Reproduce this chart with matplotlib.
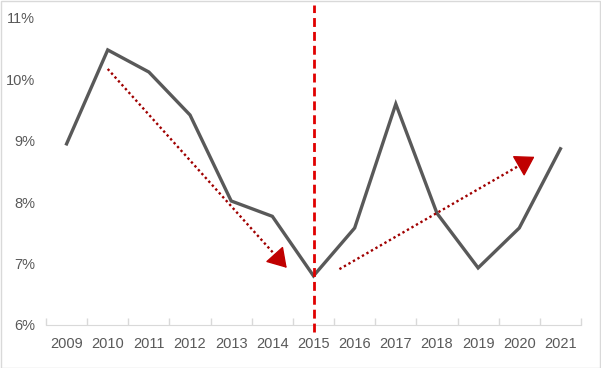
import matplotlib
matplotlib.use("Agg")
import math
from matplotlib import pyplot as plt
from matplotlib.patches import Rectangle
from matplotlib.ticker import FixedLocator, NullFormatter

years = ["2009", "2010", "2011", "2012", "2013", "2014", "2015",
         "2016", "2017", "2018", "2019", "2020", "2021"]
rate = [8.95, 10.48, 10.12, 9.42, 8.02, 7.77, 6.80,
        7.58, 9.60, 7.82, 6.93, 7.58, 8.87]
y_ticks = [6, 7, 8, 9, 10, 11]

# trend arrows: (x index, value) start -> end
trend_down = ((1.0, 10.17), (5.35, 6.93))
trend_up = ((6.63, 6.91), (11.37, 8.74))
split_year = "2015"

txt = "#595959"
plt.rcParams["font.family"] = ["Liberation Sans", "DejaVu Sans"]

fig = plt.figure(figsize=(6.01, 3.68), dpi=100)
ax = fig.add_axes([46 / 601, 43 / 368, 535 / 601, 307 / 368])

x = list(range(len(years)))
ax.plot(x, rate, color="#595959", linewidth=2.4, solid_joinstyle="miter", zorder=3)

ax.set_xlim(-0.5, len(years) - 0.5)
ax.set_ylim(6, 11)
ax.set_yticks(y_ticks)
ax.set_yticklabels([f"{v}%" for v in y_ticks])
ax.set_xticks(x)
ax.set_xticklabels(years)
ax.xaxis.set_minor_locator(FixedLocator([i - 0.5 for i in range(len(years) + 1)]))
ax.xaxis.set_minor_formatter(NullFormatter())

ax.tick_params(axis="x", which="major", length=0, pad=9, labelsize=10.5, labelcolor=txt)
ax.tick_params(axis="x", which="minor", direction="in", length=5, color="#D9D9D9", width=1)
ax.tick_params(axis="y", length=0, pad=8, labelsize=10.5, labelcolor=txt)

for s in ["top", "right", "left"]:
    ax.spines[s].set_visible(False)
ax.spines["bottom"].set_color("#D9D9D9")

# split line
xi = years.index(split_year)
ax.plot([xi, xi], [-0.023, 1.042], color="#E00000", linewidth=2.0,
        linestyle=(0, (3.2, 1.8)), dash_capstyle="butt",
        transform=ax.get_xaxis_transform(), clip_on=False, zorder=4)

# trend arrows: dotted body + solid triangle head
head_pts = 12
for (x0, y0), (x1, y1) in [trend_down, trend_up]:
    p0 = ax.transData.transform((x0, y0))
    p1 = ax.transData.transform((x1, y1))
    d = math.hypot(*(p1 - p0))
    ux, uy = (p1 - p0) / d
    back = head_pts * fig.dpi / 72
    pb = ax.transData.inverted().transform((p1[0] - ux * back, p1[1] - uy * back))
    ax.plot([x0, pb[0]], [y0, pb[1]], color="#A00000", linewidth=1.7,
            linestyle=(0, (1, 1.2)), dash_capstyle="butt", zorder=5)
    ax.annotate("", xy=(x1, y1), xytext=(-ux * head_pts, -uy * head_pts),
                textcoords="offset points",
                arrowprops=dict(arrowstyle="-|>,head_length=0.8,head_width=0.5",
                                color="#C00000", lw=1.0, shrinkA=0, shrinkB=0,
                                mutation_scale=15),
                zorder=6)

fig.patches.append(Rectangle((0.5 / 601, 0.5 / 368), 599.5 / 601, 366.5 / 368,
                             transform=fig.transFigure, fill=False,
                             edgecolor="#D9D9D9", linewidth=1))

fig.savefig("out.png", dpi=100)
